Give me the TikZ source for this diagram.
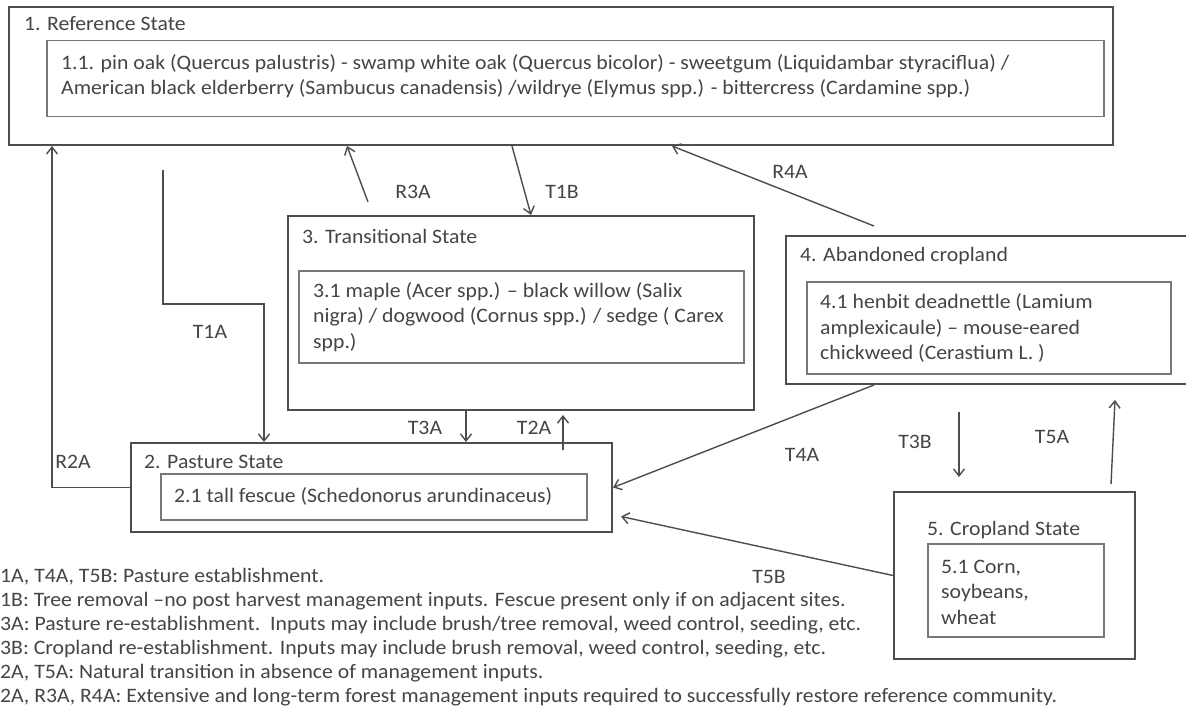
\documentclass[tikz,border=0pt]{standalone}
\usepackage{fontspec}
\setmainfont{Carlito}[FakeStretch=1.06]
\usetikzlibrary{arrows.meta,positioning,calc}
\definecolor{linegray}{HTML}{4D4D4D}
\definecolor{boxgray}{HTML}{777777}
\definecolor{textgray}{HTML}{454545}
\newcommand{\lbl}{\fontsize{20.5}{25.5}\selectfont}
\newcommand{\notes}{\fontsize{20.5}{24}\selectfont}

\begin{document}
\begin{tikzpicture}[x=1pt, y=-1pt,
  outer/.style={draw=linegray, line width=2pt, anchor=north west, inner sep=0pt},
  inner/.style={draw=boxgray, line width=1.5pt, anchor=north west, inner sep=0pt},
  title/.style={anchor=west, inner sep=0pt, text=textgray, font=\lbl},
  body/.style={anchor=west, inner sep=0pt, align=left, text=textgray, font=\lbl},
  tag/.style={inner sep=0pt, text=textgray, font=\lbl},
  arr/.style={draw=linegray, line width=1.4pt, -{Straight Barb[length=7pt,width=11pt]}},
]
\useasboundingbox (0,0) rectangle (1186,722);
\clip (0,0) rectangle (1186,722);
\fill[white] (0,0) rectangle (1186,722);

% 1. reference state
\node[outer, minimum width=1104pt, minimum height=138pt] (ref) at (8,6) {};
\node[title] (reftitle) at (24,24) {1. Reference State};
\node[inner, minimum width=1057pt, minimum height=76pt] (refin) at (46,40) {};
\node[body] (reftext) at (61,76) {1.1. pin oak (Quercus palustris) - swamp white oak (Quercus bicolor) - sweetgum (Liquidambar styraciflua) /\\American black elderberry (Sambucus canadensis) /wildrye (Elymus spp.) - bittercress (Cardamine spp.)};

% 3. transitional state
\node[outer, minimum width=466pt, minimum height=194pt] (trans) at (287,215) {};
\node[title] (transtitle) at (302,236) {3. Transitional State};
\node[inner, minimum width=445pt, minimum height=92pt] (transin) at (298,270) {};
\node[body] (transtext) at (313,317) {3.1 maple (Acer spp.) -- black willow (Salix\\nigra) / dogwood (Cornus spp.) / sedge ( Carex\\spp.)};

% 4. abandoned cropland
\node[outer, minimum width=410pt, minimum height=148pt] (aband) at (785,235) {};
\node[title] (abandtitle) at (800,256) {4. Abandoned cropland};
\node[inner, minimum width=364pt, minimum height=92pt] (abandin) at (806,281) {};
\node[body] (abandtext) at (820,328) {4.1 henbit deadnettle (Lamium\\amplexicaule) -- mouse-eared\\chickweed (Cerastium L. )};

% 2. pasture state
\node[outer, minimum width=481pt, minimum height=89pt] (pasture) at (130,442) {};
\node[title] (pasttitle) at (144,462) {2. Pasture State};
\node[inner, minimum width=426pt, minimum height=46pt] (pastin) at (160,473) {};
\node[body] (pasttext) at (174,496) {2.1 tall fescue (Schedonorus arundinaceus)};

% 5. cropland state
\node[outer, minimum width=241pt, minimum height=167pt] (crop) at (893,491) {};
\node[title] (croptitle) at (927,530) {5. Cropland State};
\node[inner, minimum width=176pt, minimum height=93pt] (cropin) at (927,543) {};
\node[body] (croptext) at (941,592) {5.1 Corn,\\soybeans,\\wheat};

% transitions
\draw[arr] ($(trans.north west)+(81,-13)$) -- (ref.south -| 347,0);
\draw[arr] (ref.south -| 512,0) -- (trans.north -| 531,0);
\draw[arr] ($(aband.north west)+(89,-9)$) -- (ref.south -| 672,0);
\draw[arr] ($(ref.south -| 163,0)+(0,24)$) |- (264,304) -- (pasture.north -| 264,0);
\draw[arr] (pasture.west) -| (ref.south -| 52,0);
\draw[arr] (trans.south -| 466,0) -- (pasture.north -| 466,0);
\draw[arr] ($(pasture.north -| 563,0)+(0,8)$) -- ($(trans.south -| 563,0)+(0,4)$);
\draw[arr] (aband.south -| 874,0) -- (pasture.east);
\draw[arr] (crop.west) -- ($(pasture.east)+(8,29)$);
\draw[arr] ($(aband.south -| 959,0)+(0,27)$) -- ($(crop.north -| 959,0)+(0,-14)$);
\draw[arr] ($(crop.north -| 1111,0)+(0,-7)$) -- ($(aband.south -| 1115,0)+(0,15)$);

% transition labels
\node[tag] (r3a) at (413,192) {R3A};
\node[tag] (t1b) at (562,192) {T1B};
\node[tag] (r4a) at (790,172) {R4A};
\node[tag] (t1a) at (210,332) {T1A};
\node[tag] (r2a) at (73,462) {R2A};
\node[tag] (t3a) at (425,428) {T3A};
\node[tag] (t2a) at (534,428) {T2A};
\node[tag] (t4a) at (802,455) {T4A};
\node[tag] (t3b) at (915,442) {T3B};
\node[tag] (t5a) at (1052,437) {T5A};
\node[tag] (t5b) at (769,577) {T5B};

% legend
\node[anchor=west, inner sep=0pt, align=left, text=textgray, font=\notes] (legend) at (0,637) {1A, T4A, T5B: Pasture establishment.\\
1B: Tree removal --no post harvest management inputs. Fescue present only if on adjacent sites.\\
3A: Pasture re-establishment.\ \ Inputs may include brush/tree removal, weed control, seeding, etc.\\
3B: Cropland re-establishment. Inputs may include brush removal, weed control, seeding, etc.\\
2A, T5A: Natural transition in absence of management inputs.\\
2A, R3A, R4A: Extensive and long-term forest management inputs required to successfully restore reference community.};
\end{tikzpicture}
\end{document}
